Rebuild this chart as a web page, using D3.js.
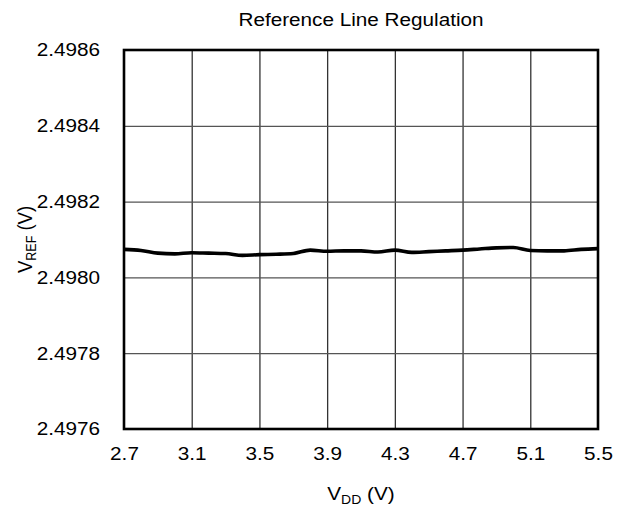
<!DOCTYPE html>
<html>
<head>
<meta charset="utf-8">
<script src="https://cdn.jsdelivr.net/npm/d3@7"></script>
<style>
  body { margin: 0; background: #fff; }
  text { font-family: "Liberation Sans", Arial, sans-serif; fill: #000; }
</style>
</head>
<body>
<div id="chart"></div>
<script>
// supply voltage sweep (V)
var vdd = [2.7, 2.8, 2.9, 3.0, 3.1, 3.2, 3.3, 3.4, 3.5, 3.6, 3.7, 3.8, 3.9, 4.0,
  4.1, 4.2, 4.3, 4.4, 4.5, 4.6, 4.7, 4.8, 4.9, 5.0, 5.1, 5.2, 5.3, 5.4, 5.5];
// measured reference output (V)
var vref = [2.498074, 2.498071, 2.498064, 2.498062, 2.498065, 2.498064, 2.498063,
  2.498058, 2.498060, 2.498061, 2.498063, 2.498072, 2.498069, 2.498070,
  2.498070, 2.498067, 2.498072, 2.498066, 2.498068, 2.498070, 2.498072,
  2.498075, 2.498078, 2.498079, 2.498071, 2.498070, 2.498070, 2.498074, 2.498076];

var xTicks = [2.7, 3.1, 3.5, 3.9, 4.3, 4.7, 5.1, 5.5];
var yTicks = [2.4976, 2.4978, 2.4980, 2.4982, 2.4984, 2.4986];

var W = 623, H = 509;
var m = {top: 50, right: 25, bottom: 80, left: 124};
var w = W - m.left - m.right, h = H - m.top - m.bottom;
var sx = 1.12; // glyphs are a bit wider than tall in the picture

var svg = d3.select("#chart").append("svg")
  .attr("width", W)
  .attr("height", H);

var g = svg.append("g")
  .attr("transform", "translate(" + m.left + "," + m.top + ")");

var x = d3.scaleLinear().domain([2.7, 5.5]).range([0, w]);
var y = d3.scaleLinear().domain([2.4976, 2.4986]).range([h, 0]);

// grid
g.append("g")
  .attr("transform", "translate(0," + h + ")")
  .call(d3.axisBottom(x).tickValues(xTicks.slice(1, -1)).tickSize(-h).tickFormat(""))
  .call(function(s) {
    s.select(".domain").remove();
    s.selectAll("line").attr("stroke", "#333").attr("stroke-width", 1.3);
  });

g.append("g")
  .call(d3.axisLeft(y).tickValues(yTicks.slice(1, -1)).tickSize(-w).tickFormat(""))
  .call(function(s) {
    s.select(".domain").remove();
    s.selectAll("line").attr("stroke", "#555").attr("stroke-width", 1.2);
  });

// tick labels
g.append("g")
  .attr("transform", "translate(0," + h + ")")
  .call(d3.axisBottom(x).tickValues(xTicks).tickSize(0).tickPadding(18)
    .tickFormat(d3.format(".1f")))
  .call(function(s) {
    s.select(".domain").remove();
    s.selectAll("text")
      .style("font-size", "18.5px")
      .attr("transform", "scale(" + sx + ",1)");
  });

g.append("g")
  .call(d3.axisLeft(y).tickValues(yTicks).tickSize(0).tickFormat(d3.format(".4f")))
  .call(function(s) {
    s.select(".domain").remove();
    s.selectAll("text")
      .attr("x", 0)
      .style("font-size", "18.5px")
      .attr("transform", "translate(-24,0) scale(" + sx + ",1)");
  });

// frame
g.append("rect")
  .attr("width", w)
  .attr("height", h)
  .attr("fill", "none")
  .attr("stroke", "#000")
  .attr("stroke-width", 2.6);

// data line
var line = d3.line()
  .x(function(d, i) { return x(vdd[i]); })
  .y(function(d) { return y(d); })
  .curve(d3.curveMonotoneX);

g.append("path")
  .datum(vref)
  .attr("d", line)
  .attr("fill", "none")
  .attr("stroke", "#000")
  .attr("stroke-width", 3.6)
  .attr("stroke-linejoin", "round");

// title
svg.append("text")
  .attr("transform", "translate(" + (m.left + w / 2) + ",25.7) scale(" + sx + ",1)")
  .attr("text-anchor", "middle")
  .style("font-size", "18.5px")
  .text("Reference Line Regulation");

// x label
var xl = svg.append("text")
  .attr("transform", "translate(" + (m.left + w / 2) + ",500) scale(" + sx + ",1)")
  .attr("text-anchor", "middle")
  .style("font-size", "18.5px");
xl.append("tspan").text("V");
xl.append("tspan").attr("dy", 4).style("font-size", "12.5px").text("DD");
xl.append("tspan").attr("dy", -4).text(" (V)");

// y label
var yl = svg.append("text")
  .attr("transform", "translate(32," + (m.top + h / 2) + ") scale(" + sx + ",1) rotate(-90)")
  .attr("text-anchor", "middle")
  .style("font-size", "18.5px");
yl.append("tspan").text("V");
yl.append("tspan").attr("dy", 4).style("font-size", "12.5px").text("REF");
yl.append("tspan").attr("dy", -4).text(" (V)");
</script>
</body>
</html>
